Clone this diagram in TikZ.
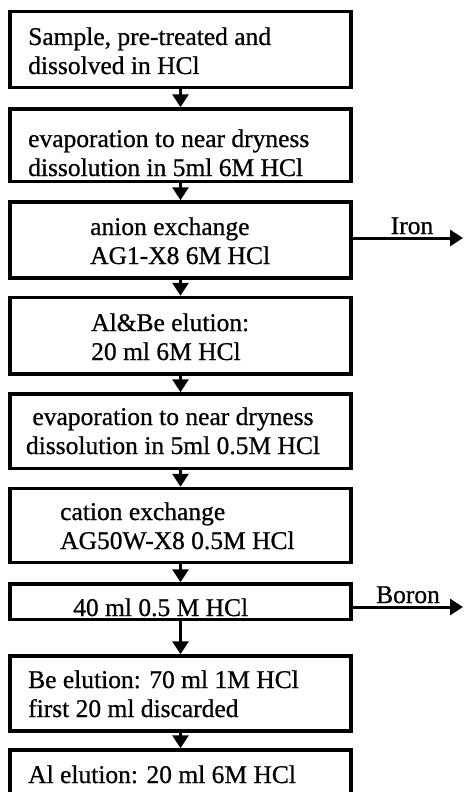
\documentclass[tikz,border=0pt]{standalone}
\usepackage{fontspec}
\setmainfont{Liberation Serif}[FakeBold=0.7]
\usetikzlibrary{arrows.meta}
\begin{document}
\begin{tikzpicture}[x=1pt,y=-1pt,
  box/.style={draw, line width=3.5pt, minimum width=341pt, inner sep=0pt},
  txt/.style={font=\fontsize{25.5}{29}\selectfont, inner sep=0pt, align=left, anchor=base west},
  ctxt/.style={font=\fontsize{25.5}{29}\selectfont, inner sep=0pt, align=center, anchor=base},
  flow/.style={line width=3pt, -{Triangle[length=13pt,width=16pt]}},
  side/.style={font=\fontsize{25.5}{29}\selectfont, inner sep=0pt, anchor=base}]
\useasboundingbox (0,0) rectangle (463,792);
\clip (0,0) rectangle (463,792);
% boxes
\node[box, minimum height=76pt]   (b1) at (180.5,49.5)  {};
\node[box, minimum height=72.5pt] (b2) at (180.5,145.25) {};
\node[box, minimum height=76pt]   (b3) at (180.5,240)   {};
\node[box, minimum height=76.5pt] (b4) at (180.5,335.75) {};
\node[box, minimum height=74.5pt] (b5) at (180.5,431.25) {};
\node[box, minimum height=74pt]   (b6) at (180.5,525.5) {};
\node[box, minimum height=35.5pt] (b7) at (180.5,601.75) {};
\node[box, minimum height=75pt]   (b8) at (180.5,693.5) {};
\node[box, minimum height=76pt]   (b9) at (180.5,788)   {};
% texts (anchor = baseline of last line)
\node[txt]  (t1) at (28,74)  {Sample, pre-treated and\\dissolved in HCl};
\node[txt]  (t2) at (28,176) {evaporation to near dryness\\dissolution in 5ml 6M HCl};
\node[txt]  (t3) at (90,264) {anion exchange\\AG1-X8 6M HCl};
\node[txt]  (t4) at (91,360) {Al\&Be elution:\\20 ml 6M HCl};
\node[ctxt] (t5) at (173,454) {evaporation to near dryness\\dissolution in 5ml 0.5M HCl};
\node[txt]  (t6) at (60,549) {cation exchange\\AG50W-X8 0.5M HCl};
\node[txt]  (t7) at (73,616) {40 ml 0.5 M HCl};
\node[txt]  (t8) at (28,717) {Be elution: 70 ml 1M HCl\\first 20 ml discarded};
\node[txt]  (t9) at (28,783) {Al elution: 20 ml 6M HCl};
% vertical flow
\draw[flow] (b1) -- (b2);
\draw[flow] (b2) -- (b3);
\draw[flow] (b3) -- (b4);
\draw[flow] (b4) -- (b5);
\draw[flow] (b5) -- (b6);
\draw[flow] (b6) -- (b7);
\draw[flow] (b7) -- (b8);
\draw[flow] (b8) -- (b9);
% side outputs
\coordinate (ironend) at (463,238);
\coordinate (boronend) at (463,607);
\draw[flow] (b3.east |- ironend) -- (ironend);
\draw[flow] (b7.east |- boronend) -- (boronend);
\node[side] (iron) at (412,234) {Iron};
\node[side] (boron) at (408,603) {Boron};
\end{tikzpicture}
\end{document}
